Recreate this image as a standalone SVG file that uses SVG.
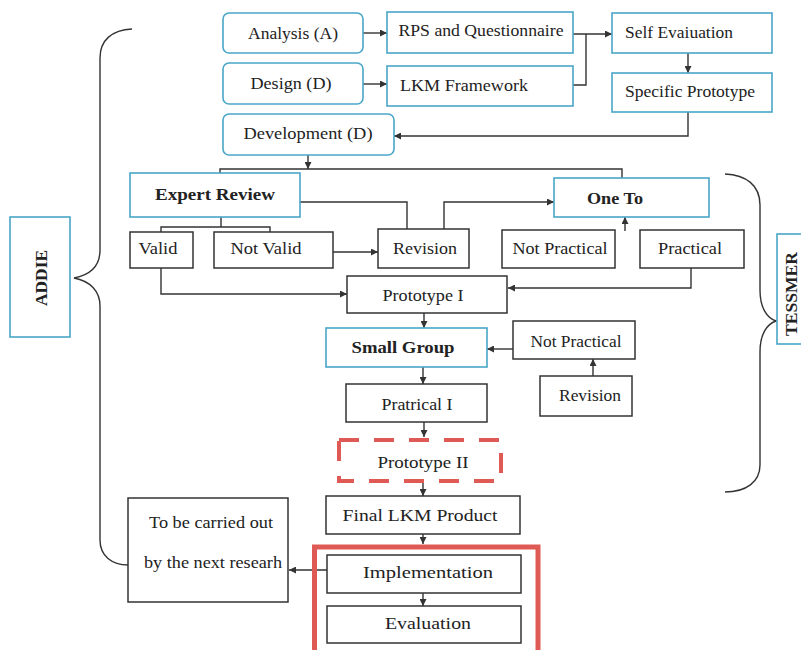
<svg xmlns="http://www.w3.org/2000/svg" width="801" height="650" viewBox="0 0 801 650">
<style>
.bx{fill:#fff;stroke:#333;stroke-width:1.5}
.bl{fill:#fff;stroke:#4aa6c9;stroke-width:1.6}
.t{font-family:'Liberation Serif','DejaVu Serif','Times New Roman',serif;font-size:17px;fill:#222;text-anchor:middle}
.b{font-weight:bold}
.c{fill:none;stroke:#333;stroke-width:1.4}
.br{fill:none;stroke:#333;stroke-width:1.4}
</style>
<defs>
<marker id="ah" viewBox="0 0 10 10" refX="10" refY="5" markerWidth="8" markerHeight="7" markerUnits="userSpaceOnUse" orient="auto">
<path d="M0,0 L10,5 L0,10 z" fill="#333"/>
</marker>
</defs>
<rect width="801" height="650" fill="#fff"/>

<g id="braces">
<path class="br" d="M132,29 C112,30 100,40 100,58 V250 C100,266 90,275 74,278 C90,281 100,291 100,306 V540 C100,556 112,565 128,565"/>
<path class="br" d="M725,174 C746,175 760,185 760,205 V290 C760,308 767,318 776,321 C767,324 760,334 760,352 V465 C760,482 746,492 725,492"/>
</g>

<g id="connectors">
<path class="c" d="M363,33 H387" marker-end="url(#ah)"/>
<path class="c" d="M363,84 H387" marker-end="url(#ah)"/>
<path class="c" d="M573,34 H612" marker-end="url(#ah)"/>
<path class="c" d="M573,85 H586 V34"/>
<path class="c" d="M688,53 V73" marker-end="url(#ah)"/>
<path class="c" d="M688,112 V136 H394" marker-end="url(#ah)"/>
<path class="c" d="M308,155 V169" marker-end="url(#ah)"/>
<path class="c" d="M220,173 V169 H622 V178"/>
<path class="c" d="M221,217 V227 M161,232 V227 H270 V232"/>
<path class="c" d="M333,252 H378" marker-end="url(#ah)"/>
<path class="c" d="M300,202 H407 V229"/>
<path class="c" d="M444,229 V202 H554" marker-end="url(#ah)"/>
<path class="c" d="M625,231 V217" marker-end="url(#ah)"/>
<path class="c" d="M161,268 V294 H347" marker-end="url(#ah)"/>
<path class="c" d="M691,268 V288 H508" marker-end="url(#ah)"/>
<path class="c" d="M424,313 V328" marker-end="url(#ah)"/>
<path class="c" d="M513,349 H487" marker-end="url(#ah)"/>
<path class="c" d="M593,376 V359" marker-end="url(#ah)"/>
<path class="c" d="M423,367 V384" marker-end="url(#ah)"/>
<path class="c" d="M424,422 V437" marker-end="url(#ah)"/>
<path class="c" d="M423,482 V496" marker-end="url(#ah)"/>
<path class="c" d="M423,534 V544" marker-end="url(#ah)"/>
<path class="c" d="M423,593 V606" marker-end="url(#ah)"/>
<path class="c" d="M327,570 H289" marker-end="url(#ah)"/>
</g>

<g id="addie"><rect x="10" y="217" width="60" height="120" fill="#fff" stroke="#4aa6c9" stroke-width="1.6"/>
<text class="t b" transform="translate(47,278) rotate(-90)" textLength="56" lengthAdjust="spacingAndGlyphs">ADDIE</text></g>
<g id="tessmer"><rect x="777" y="234" width="40" height="110" fill="#fff" stroke="#4aa6c9" stroke-width="1.6"/>
<text class="t b" transform="translate(797,294) rotate(-90)" textLength="84" lengthAdjust="spacingAndGlyphs">TESSMER</text></g>

<g id="analysis"><rect class="bl" x="223" y="13" width="140" height="40" rx="6"/><text class="t" x="293" y="39" textLength="90" lengthAdjust="spacingAndGlyphs">Analysis (A)</text></g>
<g id="design"><rect class="bl" x="223" y="63" width="140" height="41" rx="6"/><text class="t" x="291" y="89" textLength="81" lengthAdjust="spacingAndGlyphs">Design (D)</text></g>
<g id="development"><rect class="bl" x="223" y="114" width="171" height="41" rx="6"/><text class="t" x="308" y="139" textLength="129" lengthAdjust="spacingAndGlyphs">Development (D)</text></g>
<g id="rps"><rect class="bl" x="387" y="12" width="186" height="41"/><text class="t" x="481" y="36" textLength="165" lengthAdjust="spacingAndGlyphs">RPS and Questionnaire</text></g>
<g id="lkm"><rect class="bl" x="387" y="66" width="186" height="40"/><text class="t" x="464" y="91" textLength="128" lengthAdjust="spacingAndGlyphs">LKM Framework</text></g>
<g id="self"><rect class="bl" x="612" y="13" width="160" height="40"/><text class="t" x="679" y="38" textLength="108" lengthAdjust="spacingAndGlyphs">Self Evaiuation</text></g>
<g id="specific"><rect class="bl" x="612" y="73" width="160" height="39"/><text class="t" x="690" y="97" textLength="130" lengthAdjust="spacingAndGlyphs">Specific Prototype</text></g>

<g id="expert"><rect class="bl" x="130" y="173" width="170" height="44"/><text class="t b" x="215" y="200" textLength="120" lengthAdjust="spacingAndGlyphs">Expert Review</text></g>
<g id="valid"><rect class="bx" x="130" y="232" width="63" height="36"/><text class="t" x="158" y="254" textLength="39" lengthAdjust="spacingAndGlyphs">Valid</text></g>
<g id="notvalid"><rect class="bx" x="214" y="232" width="119" height="36"/><text class="t" x="266" y="254" textLength="71" lengthAdjust="spacingAndGlyphs">Not Valid</text></g>
<g id="revision1"><rect class="bx" x="378" y="229" width="91" height="39"/><text class="t" x="425" y="254" textLength="64" lengthAdjust="spacingAndGlyphs">Revision</text></g>
<g id="oneto"><rect class="bl" x="554" y="178" width="155" height="39"/><text class="t b" x="615" y="204" textLength="56" lengthAdjust="spacingAndGlyphs">One To</text></g>
<g id="notpractical1"><rect class="bx" x="502" y="230" width="113" height="38"/><text class="t" x="560" y="254" textLength="95" lengthAdjust="spacingAndGlyphs">Not Practical</text></g>
<g id="practical"><rect class="bx" x="640" y="230" width="104" height="38"/><text class="t" x="690" y="254" textLength="64" lengthAdjust="spacingAndGlyphs">Practical</text></g>

<g id="prototype1"><rect class="bx" x="347" y="276" width="160" height="37"/><text class="t" x="423" y="301" textLength="81" lengthAdjust="spacingAndGlyphs">Prototype I</text></g>
<g id="smallgroup"><rect class="bl" x="326" y="328" width="161" height="39"/><text class="t b" x="403" y="353" textLength="103" lengthAdjust="spacingAndGlyphs">Small Group</text></g>
<g id="notpractical2"><rect class="bx" x="513" y="321" width="122" height="38"/><text class="t" x="576" y="347" textLength="91" lengthAdjust="spacingAndGlyphs">Not Practical</text></g>
<g id="revision2"><rect class="bx" x="540" y="376" width="92" height="40"/><text class="t" x="590" y="401" textLength="62" lengthAdjust="spacingAndGlyphs">Revision</text></g>
<g id="pratrical1"><rect class="bx" x="346" y="384" width="141" height="38"/><text class="t" x="417" y="410" textLength="71" lengthAdjust="spacingAndGlyphs">Pratrical I</text></g>
<g id="prototype2"><rect x="339" y="440" width="162" height="41" fill="#fff" stroke="#e05a55" stroke-width="4" stroke-dasharray="20 15"/><text class="t" x="423" y="468" textLength="91" lengthAdjust="spacingAndGlyphs">Prototype II</text></g>
<g id="final"><rect class="bx" x="326" y="496" width="194" height="38"/><text class="t" x="420" y="521" textLength="155" lengthAdjust="spacingAndGlyphs">Final LKM Product</text></g>

<g id="redframe"><rect x="314.5" y="547" width="223.5" height="120" fill="none" stroke="#e05a55" stroke-width="5"/></g>
<g id="implementation"><rect class="bx" x="327" y="555" width="194" height="38"/><text class="t" x="428" y="578" textLength="130" lengthAdjust="spacingAndGlyphs">Implementation</text></g>
<g id="evaluation"><rect class="bx" x="327" y="606" width="194" height="37"/><text class="t" x="428" y="629" textLength="86" lengthAdjust="spacingAndGlyphs">Evaluation</text></g>
<g id="nextresearch"><rect class="bx" x="128" y="498" width="160" height="104"/><text class="t" x="211" y="528" textLength="124" lengthAdjust="spacingAndGlyphs">To be carried out</text><text class="t" x="213" y="568" textLength="138" lengthAdjust="spacingAndGlyphs">by the next researh</text></g>
</svg>
